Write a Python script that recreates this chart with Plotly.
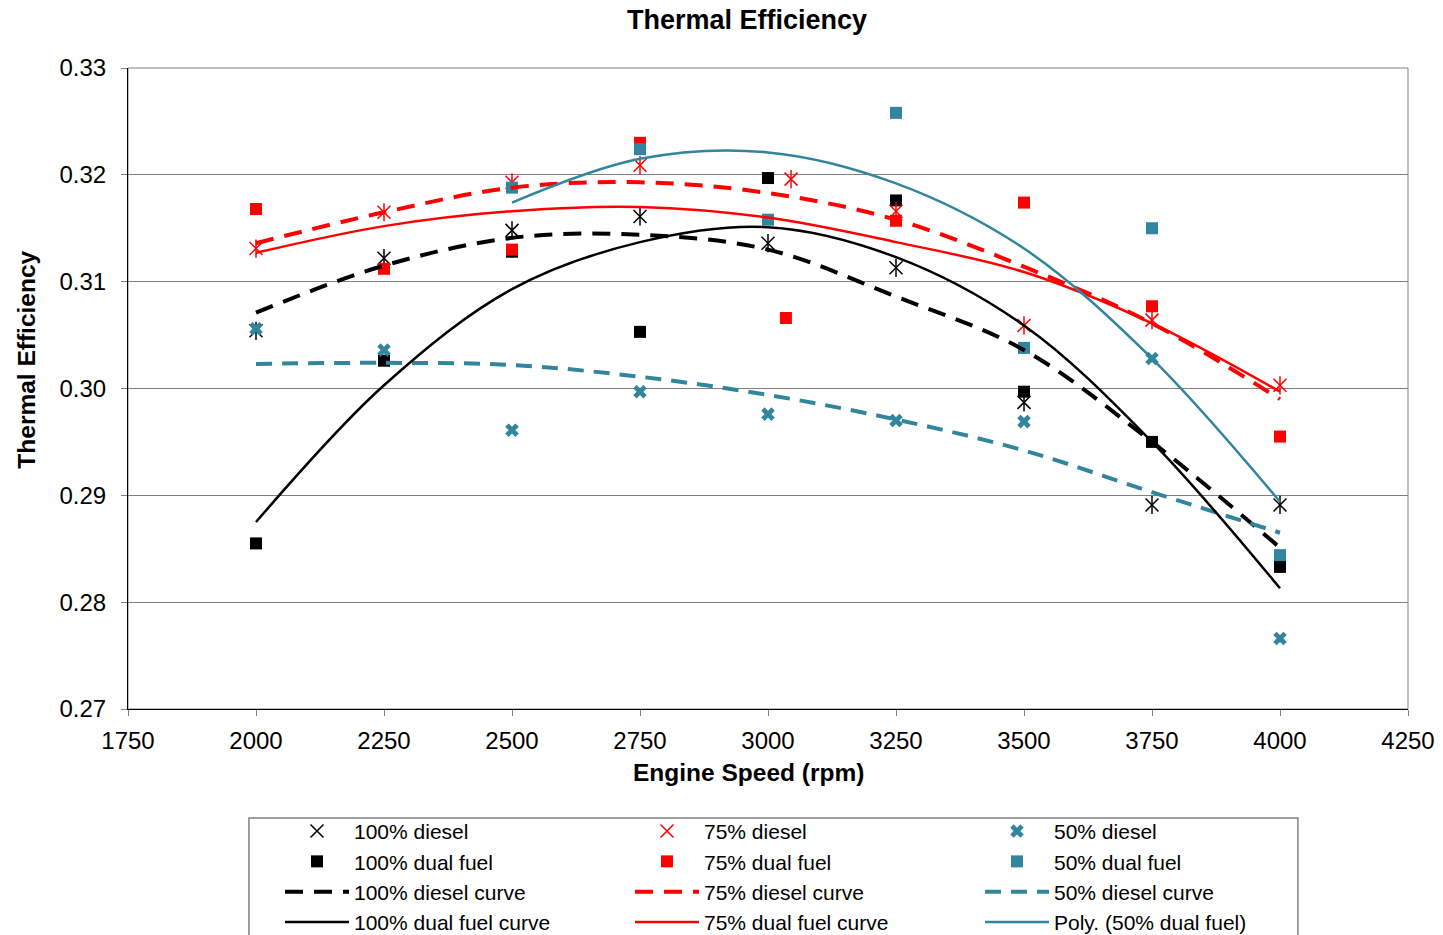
import plotly.graph_objects as go

# Engine speeds (rpm)
rpm = [2000, 2250, 2500, 2750, 3000, 3250, 3500, 3750, 4000]
rpm_75_diesel = [2000, 2250, 2500, 2750, 3045, 3250, 3500, 3750, 4000]
rpm_75_dual = [2000, 2250, 2500, 2750, 3035, 3250, 3500, 3750, 4000]
rpm_50_dual = [2500, 2750, 3000, 3250, 3500, 3750, 4000]

# Measured thermal efficiency
eff_100_diesel = [0.3054, 0.3122, 0.3148, 0.3161, 0.3136, 0.3113, 0.2987, 0.2891, 0.2891]
eff_100_dual = [0.2855, 0.3026, 0.3128, 0.3053, 0.3197, 0.3176, 0.2997, 0.2950, 0.2833]
eff_75_diesel = [0.3131, 0.3165, 0.3193, 0.3209, 0.3196, 0.3166, 0.3059, 0.3064, 0.3003]
eff_75_dual = [0.3168, 0.3112, 0.3130, 0.3230, 0.3066, 0.3157, 0.3174, 0.3077, 0.2955]
eff_50_diesel = [0.3056, 0.3036, 0.2961, 0.2997, 0.2976, 0.2970, 0.2969, 0.3028, 0.2766]
eff_50_dual = [0.3188, 0.3224, 0.3158, 0.3258, 0.3038, 0.3150, 0.2844]

# Trend curves
curve_100_diesel = [0.3071, 0.3115, 0.3141, 0.3144, 0.3130, 0.3086, 0.3036, 0.2950, 0.2851]
curve_75_diesel = [0.3136, 0.3165, 0.3188, 0.3193, 0.3183, 0.3158, 0.3114, 0.3061, 0.2990]
curve_50_diesel = [0.3023, 0.3024, 0.3022, 0.3011, 0.2994, 0.2971, 0.2942, 0.2903, 0.2865]
curve_100_dual = [0.2875, 0.3003, 0.3093, 0.3137, 0.3151, 0.3123, 0.3059, 0.2950, 0.2813]
curve_75_dual = [0.3127, 0.3152, 0.3166, 0.3170, 0.3160, 0.3137, 0.3109, 0.3061, 0.2997]
poly_50_dual = [0.3174, 0.3215, 0.3221, 0.3192, 0.3131, 0.3028, 0.2894]

x_ticks = [1750, 2000, 2250, 2500, 2750, 3000, 3250, 3500, 3750, 4000, 4250]
y_ticks = [0.27, 0.28, 0.29, 0.30, 0.31, 0.32, 0.33]

BLACK = "#000000"
RED = "#FF0000"
TEAL = "#31859C"
FONT = "Arial, 'Liberation Sans', sans-serif"

fig = go.Figure()


def markers(x, y, name, color, symbol, size, legend, lw=1.5, showlegend=True):
    fig.add_trace(go.Scatter(
        x=x, y=y, mode="markers", name=name, legend=legend, showlegend=showlegend,
        marker=dict(symbol=symbol, size=size, color=color,
                    line=dict(color=color, width=lw)),
    ))


def curve(x, y, name, color, width, dash, legend):
    fig.add_trace(go.Scatter(
        x=x, y=y, mode="lines", name=name, legend=legend,
        line=dict(color=color, width=width, dash=dash, shape="spline"),
    ))


# Point series (diesel points drawn as x plus a vertical stroke)
markers(rpm, eff_100_diesel, "100% diesel", BLACK, "x-thin-open", 13, "legend")
markers(rpm, eff_100_diesel, "100% diesel", BLACK, "line-ns-open", 13, "legend",
        showlegend=False)
markers(rpm, eff_100_dual, "100% dual fuel", BLACK, "square", 12, "legend", lw=0)
markers(rpm_75_diesel, eff_75_diesel, "75% diesel", RED, "x-thin-open", 13, "legend2")
markers(rpm_75_diesel, eff_75_diesel, "75% diesel", RED, "line-ns-open", 13, "legend2",
        showlegend=False)
markers(rpm_75_dual, eff_75_dual, "75% dual fuel", RED, "square", 12, "legend2", lw=0)
markers(rpm, eff_50_diesel, "50% diesel", TEAL, "x", 12, "legend3", lw=0)
markers(rpm_50_dual, eff_50_dual, "50% dual fuel", TEAL, "square", 12, "legend3", lw=0)

# Trend curves
curve(rpm, curve_100_diesel, "100% diesel curve", BLACK, 4, "18px,11px", "legend")
curve(rpm, curve_75_diesel, "75% diesel curve", RED, 4, "18px,11px", "legend2")
curve(rpm, curve_50_diesel, "50% diesel curve", TEAL, 4, "16px,10px", "legend3")
curve(rpm, curve_100_dual, "100% dual fuel curve", BLACK, 2.5, "solid", "legend")
curve(rpm, curve_75_dual, "75% dual fuel curve", RED, 2.5, "solid", "legend2")
curve(rpm_50_dual, poly_50_dual, "Poly. (50% dual fuel)", TEAL, 2.5, "solid", "legend3")

legend_common = dict(
    orientation="v", xanchor="left", yanchor="top", y=-0.159,
    itemwidth=64, font=dict(family=FONT, size=21, color="#000000"),
    bgcolor="rgba(0,0,0,0)", borderwidth=0, tracegroupgap=0,
    itemclick=False, itemdoubleclick=False,
)

fig.update_layout(
    width=1443, height=935,
    margin=dict(l=128, r=35, t=68, b=226, autoexpand=False),
    paper_bgcolor="white", plot_bgcolor="white",
    font=dict(family=FONT, size=24, color="#000000"),
    showlegend=True,
    legend=dict(legend_common, x=0.11875),
    legend2=dict(legend_common, x=0.39219),
    legend3=dict(legend_common, x=0.66563),
    xaxis=dict(
        range=[1750, 4250], tickvals=x_ticks, ticks="outside", ticklen=6,
        tickcolor="#808080", showgrid=False, zeroline=False,
        showline=True, linecolor="#000000", linewidth=1,
        tickfont=dict(family=FONT, size=24), ticklabelstandoff=4,
    ),
    yaxis=dict(
        range=[0.27, 0.33], tickvals=y_ticks, tickformat=".2f", ticks="outside",
        ticklen=6, tickcolor="#808080", showgrid=True, gridcolor="#808080",
        gridwidth=1, zeroline=False, showline=True, linecolor="#000000",
        linewidth=1, tickfont=dict(family=FONT, size=24), ticklabelstandoff=10,
    ),
    shapes=[
        # plot area frame
        dict(type="rect", xref="paper", yref="paper", x0=0, x1=1, y0=0, y1=1,
             line=dict(color="#808080", width=1), layer="below"),
        # legend frame
        dict(type="rect", xref="paper", yref="paper", x0=0.0945, x1=0.914,
             y0=-0.37, y1=-0.170, line=dict(color="#808080", width=1.5),
             layer="below"),
    ],
    annotations=[
        dict(text="<b>Thermal Efficiency</b>", xref="paper", yref="paper",
             x=0.4836, y=1.0, yshift=48, yanchor="middle", xanchor="center",
             showarrow=False, font=dict(family=FONT, size=27)),
        dict(text="<b>Engine Speed (rpm)</b>", xref="paper", yref="paper",
             x=0.4844, y=0, yshift=-63, yanchor="middle", xanchor="center",
             showarrow=False, font=dict(family=FONT, size=24.5)),
        dict(text="<b>Thermal Efficiency</b>", xref="paper", yref="paper",
             x=0, xshift=-101, y=0.545, xanchor="center", yanchor="middle",
             textangle=-90, showarrow=False, font=dict(family=FONT, size=24.5)),
    ],
)

fig.write_html("out.html")
